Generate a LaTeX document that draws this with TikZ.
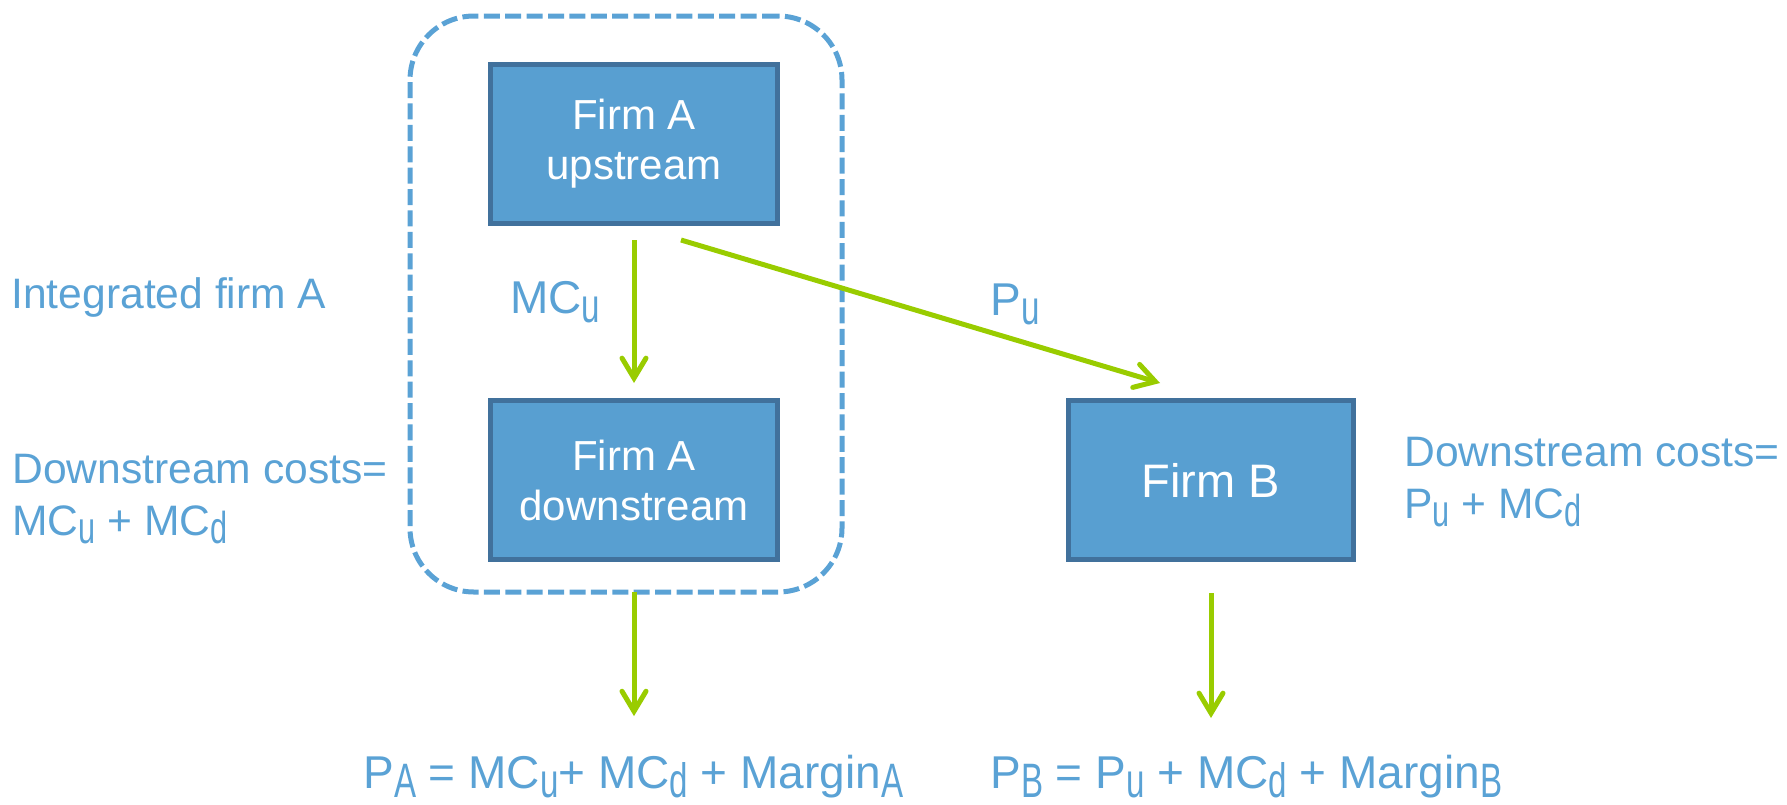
\documentclass[tikz,border=0pt]{standalone}
\usepackage{fontspec}
\setmainfont{Liberation Sans}
\usepackage{graphicx}
\usetikzlibrary{arrows.meta,calc}
\definecolor{boxfill}{HTML}{589FD1}
\definecolor{boxborder}{HTML}{41719C}
\definecolor{lblblue}{HTML}{5AA2D5}
\definecolor{arrgreen}{HTML}{99CC00}
\newcommand{\sbs}[1]{\raisebox{-0.2em}{\scalebox{0.72}[1.05]{#1}}}
\tikzset{
  firm/.style={draw=boxborder, fill=boxfill, line width=2.5pt, text=white,
    font=\fontsize{21}{25}\selectfont, align=center, inner sep=0pt,
    minimum width=143.5pt, minimum height=79.5pt},
  grpbox/.style={draw=lblblue, line width=2.5pt, rounded corners=32pt,
    dash pattern=on 8pt off 2.7pt, minimum width=216pt, minimum height=288pt, inner sep=0pt},
  arr/.style={draw=arrgreen, line width=2.5pt,
    -{Straight Barb[length=10pt,width=12pt,line cap=round]}},
  lbl/.style={anchor=base west, inner sep=0pt, text=lblblue, align=left,
    font=\fontsize{21.3}{26}\selectfont},
  biglbl/.style={lbl, font=\fontsize{23}{28}\selectfont}
}
\begin{document}
\begin{tikzpicture}[x=0.5pt,y=-0.5pt]
\useasboundingbox (0,0) rectangle (1787,804);
% group
\node[grpbox] (grp) at (626,304) {};
% boxes
\node[firm] (Aup) at (634,144) {Firm A\\upstream};
\node[firm] (Adown) at (634,480) {Firm A\\downstream};
\node[firm, minimum width=142.5pt, font=\fontsize{23.5}{28}\selectfont] (B) at (1211,480) {Firm B};
% labels (base = last line's baseline)
\node[lbl] (intA) at (11,308) {Integrated firm A};
\node[lbl] (dcA) at (12,535) {Downstream costs=\\MC\sbs{u} + MC\sbs{d}};
\node[lbl] (dcB) at (1404,518) {Downstream costs=\\P\sbs{u} + MC\sbs{d}};
\node[biglbl] (mcu) at (510,313) {MC\sbs{u}};
\node[biglbl] (pu) at (990,315) {P\sbs{u}};
\node[biglbl] (fA) at (363,788) {P\sbs{A} = MC\sbs{u}+ MC\sbs{d} + Margin\sbs{A}};
\node[biglbl] (fB) at (990,788) {P\sbs{B} = P\sbs{u} + MC\sbs{d} + Margin\sbs{B}};
% arrows
\coordinate (d1) at ($(Aup.south)+(47,14)$);
\coordinate (d2) at ($(B.north)+(-51,-15)$);
\draw[arr] ([yshift=-7pt]Aup.south) -- ([yshift=7.5pt]Adown.north);
\draw[arr] (d1) -- (d2);
\draw[arr] ([yshift=1.2pt]Adown |- grp.south) -- ++(0,124);
\draw[arr] ([yshift=-15.5pt]B.south) -- ++(0,125);
\end{tikzpicture}
\end{document}
